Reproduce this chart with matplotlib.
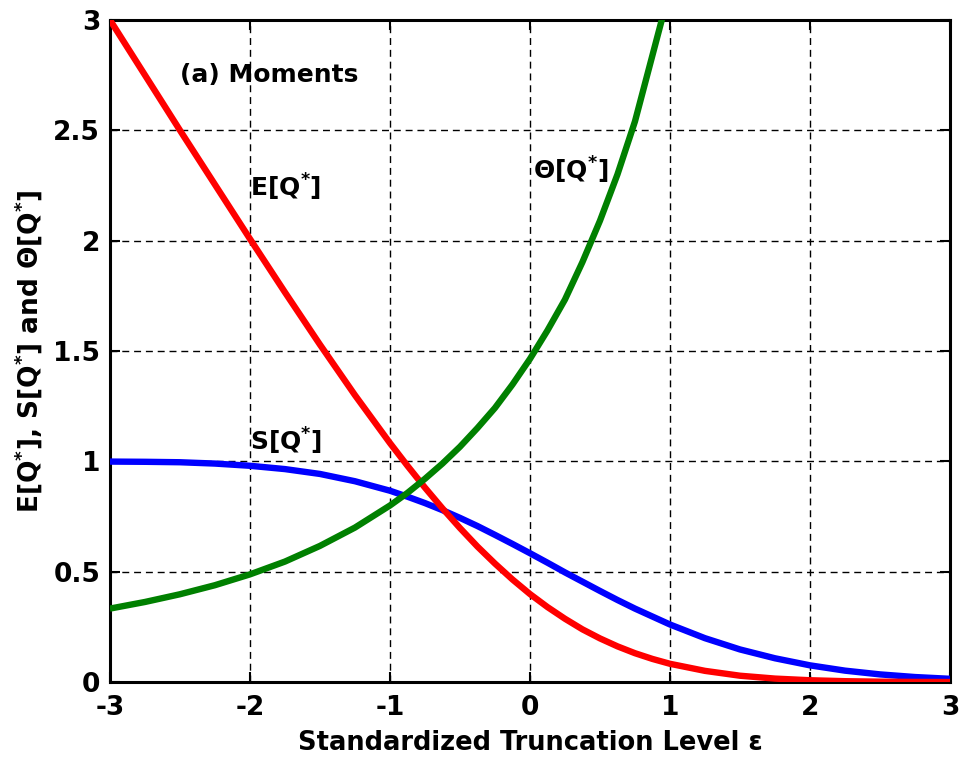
import matplotlib
matplotlib.use("Agg")
import matplotlib.pyplot as plt

plt.rcParams['font.family'] = ['DejaVu Sans']
plt.rcParams['font.weight'] = 'bold'
plt.rcParams['mathtext.fontset'] = 'dejavusans'
plt.rcParams['mathtext.default'] = 'bf'

# Truncation levels
eps = [-3.0, -2.75, -2.5, -2.25, -2.0, -1.75, -1.5, -1.25, -1.0, -0.875, -0.75, -0.625,
       -0.5, -0.375, -0.25, -0.125, 0.0, 0.125, 0.25, 0.375, 0.5, 0.625, 0.75, 0.875,
       1.0, 1.25, 1.5, 1.75, 2.0, 2.25, 2.5, 2.75, 3.0]

# E[Q*]
mean_q = [3.00, 2.75, 2.50, 2.254, 2.008, 1.766, 1.529, 1.30, 1.083, 0.980, 0.881, 0.787,
          0.698, 0.614, 0.537, 0.465, 0.399, 0.340, 0.287, 0.239, 0.198, 0.162, 0.131, 0.105,
          0.083, 0.051, 0.029, 0.016, 0.0085, 0.0042, 0.002, 0.0009, 0.0004]

# S[Q*]
std_q = [0.999, 0.998, 0.996, 0.990, 0.980, 0.965, 0.943, 0.910, 0.867, 0.840, 0.811, 0.779,
         0.744, 0.707, 0.667, 0.626, 0.584, 0.541, 0.497, 0.455, 0.413, 0.372, 0.333, 0.297,
         0.261, 0.199, 0.148, 0.108, 0.076, 0.052, 0.035, 0.023, 0.015]

# Theta[Q*]
eps_theta = [-3.0, -2.75, -2.5, -2.25, -2.0, -1.75, -1.5, -1.25, -1.0, -0.875, -0.75, -0.625,
             -0.5, -0.375, -0.25, -0.125, 0.0, 0.125, 0.25, 0.375, 0.5, 0.625, 0.75, 0.875, 1.0]
theta_q = [0.333, 0.363, 0.398, 0.439, 0.488, 0.546, 0.617, 0.700, 0.800, 0.857, 0.921, 0.990,
           1.066, 1.151, 1.242, 1.348, 1.464, 1.593, 1.733, 1.903, 2.09, 2.30, 2.54, 2.84, 3.14]

xticks = [-3, -2, -1, 0, 1, 2, 3]
yticks = [0, 0.5, 1, 1.5, 2, 2.5, 3]
yticklabels = ['0', '0.5', '1', '1.5', '2', '2.5', '3']

fig = plt.figure(figsize=(9.64, 7.63), dpi=100)
ax = fig.add_axes([0.114, 0.106, 0.8715, 0.868])

ax.plot(eps, std_q, color='#0000ff', lw=4.6, solid_capstyle='butt', zorder=3)
ax.plot(eps, mean_q, color='#ff0000', lw=4.6, solid_capstyle='butt', zorder=4)
ax.plot(eps_theta, theta_q, color='#008000', lw=4.6, solid_capstyle='butt', zorder=5)

ax.set_xlim(-3, 3)
ax.set_ylim(0, 3)
ax.set_xticks(xticks)
ax.set_xticklabels([str(t) for t in xticks])
ax.set_yticks(yticks)
ax.set_yticklabels(yticklabels)

ax.grid(True, color='black', linestyle=(0, (5, 3.5)), linewidth=1.0)
ax.tick_params(direction='in', length=7, width=1.5, top=True, right=True,
               labelsize=19, pad=7)
ax.tick_params(axis='x', pad=9)
for sp in ax.spines.values():
    sp.set_linewidth(2.2)

ax.set_xlabel('Standardized Truncation Level ε', fontsize=18.5, fontweight='bold', labelpad=7)
ax.set_ylabel(r'E[Q$^{*}$], S[Q$^{*}$] and Θ[Q$^{*}$]', fontsize=19, fontweight='bold',
              labelpad=6)

ax.text(-2.5, 2.75, '(a) Moments', fontsize=18, fontweight='bold', ha='left', va='center')
ax.text(-2.0, 2.24, r'E[Q$^{*}$]', fontsize=18, fontweight='bold', ha='left', va='center')
ax.text(-2.0, 1.09, r'S[Q$^{*}$]', fontsize=18, fontweight='bold', ha='left', va='center')
ax.text(0.02, 2.32, r'Θ[Q$^{*}$]', fontsize=18, fontweight='bold', ha='left', va='center')

fig.savefig('out.png', dpi=100, facecolor='white')
